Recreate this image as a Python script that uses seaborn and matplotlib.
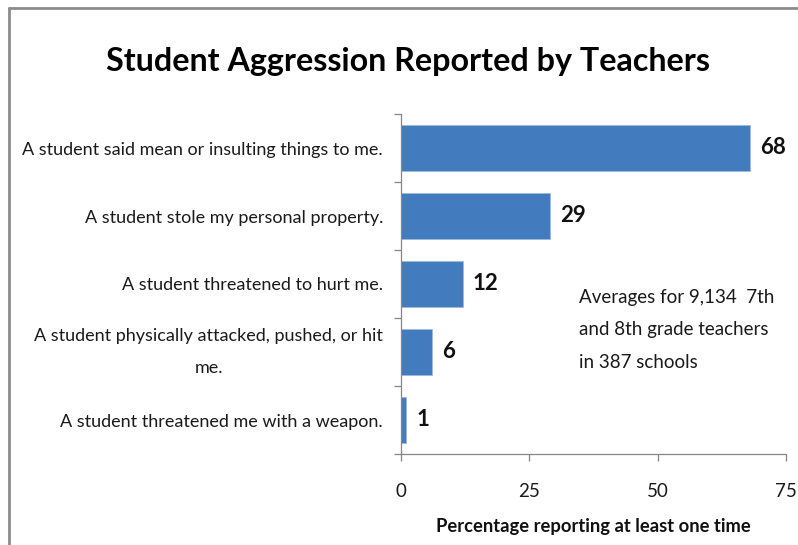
import matplotlib
matplotlib.use("Agg")
import matplotlib.pyplot as plt
import seaborn as sns
import pandas as pd
from matplotlib.lines import Line2D

categories = [
    "A student said mean or insulting things to me.",
    "A student stole my personal property.",
    "A student threatened to hurt me.",
    "A student physically attacked, pushed, or hit\nme.",
    "A student threatened me with a weapon.",
]
values = [68, 29, 12, 6, 1]
x_ticks = [0, 25, 50, 75]
title = "Student Aggression Reported by Teachers"
xlabel = "Percentage reporting at least one time"
note = "Averages for 9,134  7th\nand 8th grade teachers\nin 387 schools"

sns.set_theme(style="white")
plt.rcParams["font.family"] = ["Lato", "DejaVu Sans"]

df = pd.DataFrame({"cat": categories, "val": values})

fig = plt.figure(figsize=(7.98, 5.45), dpi=100)
ax = fig.add_axes([401/798, 1-454/545, (786-401)/798, (454-114)/545])

sns.barplot(data=df, y="cat", x="val", orient="h", color="#427CBE",
            saturation=1, width=0.69, ax=ax, edgecolor="#9DB9DE", linewidth=0.6)

ax.set_xlim(0, 75)
ax.set_ylim(len(categories)-0.5, -0.5)
ax.set_xticks(x_ticks)
ax.set_xticklabels([str(t) for t in x_ticks], fontsize=13.5, color="#1a1a1a")
ax.tick_params(axis="x", length=5, width=0.9, color="#868686", direction="out", pad=16, bottom=True)
ax.tick_params(axis="y", which="major", length=0, pad=13, labelsize=13.0, labelcolor="#1a1a1a")
ax.set_yticks([i - 0.5 for i in range(len(categories)+1)], minor=True)
ax.tick_params(axis="y", which="minor", length=5, width=0.9, color="#868686", direction="out", left=True)
for lbl in ax.get_yticklabels():
    lbl.set_multialignment("center")
    if "\n" in lbl.get_text():
        lbl.set_linespacing(2.3)
        lbl.set_verticalalignment("center")

for s in ["top", "right"]:
    ax.spines[s].set_visible(False)
for s in ["left", "bottom"]:
    ax.spines[s].set_color("#868686")
    ax.spines[s].set_linewidth(0.9)

ax.set_ylabel("")
ax.set_xlabel(xlabel, fontsize=13.2, fontweight="bold", labelpad=13, color="#111111")

for i, v in enumerate(values):
    ax.text(v + 2.0, i, str(v), va="center", ha="left", fontsize=16,
            fontweight="bold", color="#111111")

fig.text(579/798, 1-330/545, note, fontsize=13.5, va="center", ha="left",
         linespacing=2.1, color="#1a1a1a")

fig.text(408/798, 1-61/545, title, fontsize=23.2, fontweight="bold",
         ha="center", va="center", color="#000000")

# cropped chart border (top and left)
fig.add_artist(Line2D([9/798, 1], [1-8/545, 1-8/545], color="#8c8c8c", lw=2.0,
                      transform=fig.transFigure))
fig.add_artist(Line2D([9/798, 9/798], [0, 1-8/545], color="#8c8c8c", lw=2.0,
                      transform=fig.transFigure))

fig.savefig("out.png", dpi=100)
